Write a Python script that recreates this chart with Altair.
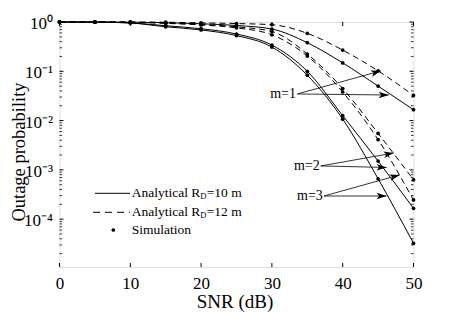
import math
import altair as alt
import pandas as pd

# ---------------- data ----------------
snr = [0, 5, 10, 15, 20, 25, 30, 35, 40, 45, 50]
m1_r10 = [1, 0.999, 0.99, 0.97, 0.92, 0.85, 0.72, 0.380, 0.148, 0.0501, 0.0166]
m1_r12 = [1, 1.0, 0.998, 0.99, 0.96, 0.93, 0.88, 0.589, 0.269, 0.102, 0.0324]
m2_r10 = [1, 0.997, 0.96, 0.84, 0.73, 0.57, 0.34, 0.100, 0.0126, 0.00151, 0.000166]
m2_r12 = [1, 0.999, 0.99, 0.95, 0.89, 0.80, 0.64, 0.224, 0.0447, 0.0055, 0.00063]
m3_r10 = [1, 0.996, 0.955, 0.80, 0.69, 0.53, 0.31, 0.0832, 0.0107, 0.00066, 0.0000324]
m3_r12 = [1, 0.999, 0.985, 0.94, 0.87, 0.76, 0.55, 0.204, 0.0380, 0.0041, 0.000245]

x_ticks = [0, 10, 20, 30, 40, 50]
y_major = [1, 0.1, 0.01, 0.001, 0.0001]
y_major_labels = ["10\u2070", "10\u207b\u00b9", "10\u207b\u00b2", "10\u207b\u00b3", "10\u207b\u2074"]
y_minor = [k * 10.0 ** e for e in range(-5, 0) for k in range(2, 10)]

ann_text = ["m=1", "m=2", "m=3"]
ann_x = [33.4, 36.75, 37.2]
ann_y = [0.0347, 0.0012, 0.000295]
arrow_x0 = [33.6, 33.6, 36.9, 36.9, 37.35, 37.35]
arrow_y0 = [0.0347, 0.0347, 0.0012, 0.0012, 0.000295, 0.000295]
arrow_x1 = [45.4, 46.5, 47.2, 46.2, 48.05, 46.2]
arrow_y1 = [0.102, 0.033, 0.0022, 0.00112, 0.00079, 0.000295]

legend_labels = ["Analytical R", "D", "=10 m", "Analytical R", "D", "=12 m", "Simulation"]

# ---------------- layout ----------------
W, H = 354, 245
XMAX = 50
YMIN = 1.07e-5
FONT = "Liberation Serif"


def px(x):
    return x / XMAX * W


def py(v):
    return math.log10(v) / math.log10(YMIN) * H


curves = []
for name, dash, vals in [
    ("m1_r10", "solid", m1_r10), ("m1_r12", "dash", m1_r12),
    ("m2_r10", "solid", m2_r10), ("m2_r12", "dash", m2_r12),
    ("m3_r10", "solid", m3_r10), ("m3_r12", "dash", m3_r12),
]:
    for s, v in zip(snr, vals):
        curves.append({"x": s, "y": v, "series": name, "dash": dash})
df = pd.DataFrame(curves)

xscale = alt.Scale(domain=[0, XMAX], nice=False, zero=False)
yscale = alt.Scale(type="log", domain=[YMIN, 1], nice=False)

label_expr = "[" + ",".join("'%s'" % t for t in y_major_labels) + "][round(-log(datum.value)/LN10)]"

X = alt.X("x:Q", scale=xscale,
          axis=alt.Axis(values=x_ticks, ticks=False, domain=False, grid=False, labelFlush=False,
                        labelFontSize=17, labelPadding=8.5, labelFont=FONT, labelColor="black",
                        title="SNR (dB)", titleFont=FONT, titleFontSize=19, titleFontWeight="normal",
                        titleColor="black", titleY=40.5, titleBaseline="alphabetic", titleX=175))
Y = alt.Y("y:Q", scale=yscale,
          axis=alt.Axis(values=y_major, labelExpr=label_expr, ticks=False, domain=False, grid=False,
                        labelFlush=False, labelOffset=1.5,
                        labelFontSize=17, labelPadding=7, labelFont=FONT, labelColor="black",
                        title="Outage probability", titleFont=FONT, titleFontSize=18.5,
                        titleFontWeight="normal", titleColor="black", titleAngle=270,
                        titleX=-35, titleY=129.5, titleAlign="center", titleBaseline="alphabetic"))

solid = alt.Chart(df[df.dash == "solid"]).mark_line(
    color="black", strokeWidth=1, interpolate="monotone"
).encode(x=X, y=Y, detail="series:N")
dashed = alt.Chart(df[df.dash == "dash"]).mark_line(
    color="black", strokeWidth=1, strokeDash=[6, 4], interpolate="monotone"
).encode(x=X, y=Y, detail="series:N")
points = alt.Chart(df).mark_circle(color="black", size=14, opacity=1).encode(x=X, y=Y)

# inward ticks
xt = pd.DataFrame({"x": x_ticks})
xt_bottom = alt.Chart(xt).mark_rule(color="black", strokeWidth=1).encode(
    x=X, y=alt.value(H), y2=alt.value(H - 4))
xt_top = alt.Chart(xt).mark_rule(color="black", strokeWidth=1).encode(
    x=X, y=alt.value(0), y2=alt.value(4))
ytm = pd.DataFrame({"y": y_major})
ytn = pd.DataFrame({"y": [v for v in y_minor if v >= YMIN]})
yt_major_l = alt.Chart(ytm).mark_rule(color="black", strokeWidth=1).encode(
    y=Y, x=alt.value(0), x2=alt.value(4))
yt_major_r = alt.Chart(ytm).mark_rule(color="black", strokeWidth=1).encode(
    y=Y, x=alt.value(W), x2=alt.value(W - 4))
yt_minor_l = alt.Chart(ytn).mark_rule(color="black", strokeWidth=0.8).encode(
    y=Y, x=alt.value(0), x2=alt.value(2.5))
yt_minor_r = alt.Chart(ytn).mark_rule(color="black", strokeWidth=0.8).encode(
    y=Y, x=alt.value(W), x2=alt.value(W - 2.5))

# annotations with arrows
adf = pd.DataFrame({"x": arrow_x0, "y": arrow_y0, "x1": arrow_x1, "y1": arrow_y1})
adf["angle"] = [
    math.degrees(math.atan2(py(b) - py(a), px(d) - px(c))) % 360
    for a, b, c, d in zip(arrow_y0, arrow_y1, arrow_x0, arrow_x1)
]
arrows = alt.Chart(adf).mark_rule(color="black", strokeWidth=0.8).encode(
    x=X, y=Y, x2="x1:Q", y2="y1:Q")
heads = alt.Chart(adf).mark_point(
    shape="M0,0L-2,-0.65L-1.5,0L-2,0.65Z", filled=True, color="black", size=100, opacity=1, strokeWidth=0
).encode(x=alt.X("x1:Q", scale=xscale), y=alt.Y("y1:Q", scale=yscale), angle=alt.Angle("angle:Q", scale=None))
tdf = pd.DataFrame({"x": ann_x, "y": ann_y, "t": ann_text})
ann = alt.Chart(tdf).mark_text(font=FONT, fontSize=14, align="right", baseline="middle", color="black").encode(
    x=X, y=Y, text="t:N")

# legend (pixel placement inside the plot)
one = pd.DataFrame({"a": [0]})
leg_solid = alt.Chart(one).mark_rule(color="black", strokeWidth=1).encode(
    x=alt.value(35.5), x2=alt.value(70.5), y=alt.value(171.3))
leg_dash = alt.Chart(one).mark_rule(color="black", strokeWidth=1, strokeDash=[7, 5]).encode(
    x=alt.value(33.5), x2=alt.value(70.5), y=alt.value(190.3))
leg_dot = alt.Chart(one).mark_circle(color="black", size=14, opacity=1).encode(
    x=alt.value(53.8), y=alt.value(208))


def ltxt(t, x, y, size=13.5):
    return alt.Chart(one).mark_text(font=FONT, fontSize=size, align="left", baseline="middle",
                                    color="black", text=t).encode(x=alt.value(x), y=alt.value(y))


leg_texts = [
    ltxt(legend_labels[0], 72.2, 171.3), ltxt(legend_labels[1], 140.8, 173.8, 8.5),
    ltxt(legend_labels[2], 147.2, 171.3),
    ltxt(legend_labels[3], 72.2, 190.3), ltxt(legend_labels[4], 140.8, 192.8, 8.5),
    ltxt(legend_labels[5], 147.2, 190.3),
    ltxt(legend_labels[6], 72.2, 208),
]

chart = alt.layer(
    solid, dashed, points,
    xt_bottom, xt_top, yt_major_l, yt_major_r, yt_minor_l, yt_minor_r,
    arrows, heads, ann,
    leg_solid, leg_dash, leg_dot, *leg_texts,
).properties(
    width=W, height=H,
    autosize=alt.AutoSizeParams(type="none"),
    padding={"left": 51.5, "top": 14, "right": 30, "bottom": 46},
).configure_view(stroke="#222", strokeWidth=1).configure(background="white")

chart.save("out.html", embed_options={"renderer": "svg", "actions": False})
